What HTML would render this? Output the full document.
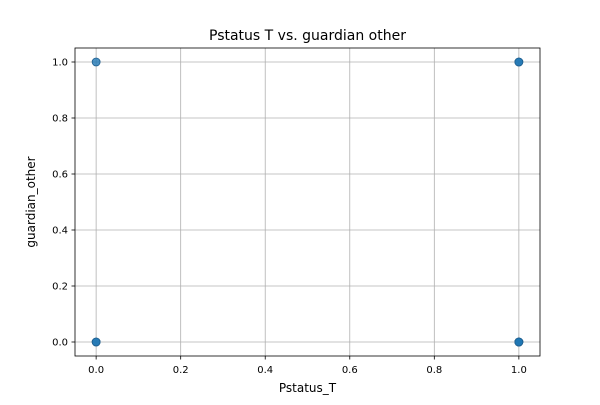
<!DOCTYPE html>
<html><head><meta charset="utf-8"><style>
body{margin:0;background:#fff;font-family:"Liberation Sans","DejaVu Sans",sans-serif;}
svg text{font-family:"DejaVu Sans","Liberation Sans",sans-serif;}
</style></head><body>
<svg id="chart" width="600" height="400" xmlns="http://www.w3.org/2000/svg">
<rect width="600" height="400" fill="#fff"/>
<g id="grid"></g><g id="ticks"></g><g id="pts"></g>
<rect x="75" y="48" width="465" height="308" fill="none" stroke="#000" stroke-width="0.8"/>
<text x="307.5" y="40" font-size="14" text-anchor="middle">Pstatus T vs. guardian other</text>
<text x="307.5" y="392" font-size="12" text-anchor="middle">Pstatus_T</text>
<text x="35" y="202" font-size="12" text-anchor="middle" transform="rotate(-90 35 202)">guardian_other</text>
</svg>
<script>
const xValues=[0,0,1,1,1,0,1,1,1];
const yValues=[0,1,0,1,1,0,0,0,0];
const xTicks=[0,0.2,0.4,0.6,0.8,1.0];
const yTicks=[0,0.2,0.4,0.6,0.8,1.0];
const ns="http://www.w3.org/2000/svg";
const L=75,R=540,T=48,B=356;
const sx=v=>L+(v+0.05)/1.1*(R-L);
const sy=v=>B-(v+0.05)/1.1*(B-T);
function mk(tag,attrs,parent){const e=document.createElementNS(ns,tag);for(const k in attrs)e.setAttribute(k,attrs[k]);document.getElementById(parent).appendChild(e);return e;}
xTicks.forEach(t=>{const x=sx(t);
const g=mk('line',{x1:x,x2:x,y1:T,y2:B,stroke:'#b0b0b0','stroke-width':0.8},'grid');


const tk=mk('line',{x1:x,x2:x,y1:B,y2:B+3.5,stroke:'#000','stroke-width':0.8},'ticks');


const tx=mk('text',{x:x,y:B+17,'font-size':10,'text-anchor':'middle'},'ticks');tx.textContent=t.toFixed(1);


});
yTicks.forEach(t=>{const y=sy(t);
const g=mk('line',{x1:L,x2:R,y1:y,y2:y,stroke:'#b0b0b0','stroke-width':0.8},'grid');


const tk=mk('line',{x1:L-3.5,x2:L,y1:y,y2:y,stroke:'#000','stroke-width':0.8},'ticks');


const tx=mk('text',{x:L-7,y:y+3.5,'font-size':10,'text-anchor':'end'},'ticks');tx.textContent=t.toFixed(1);


});
xValues.forEach((v,i)=>{
const c=mk('circle',{cx:sx(v),cy:sy(yValues[i]),r:4,fill:'#1f77b4','fill-opacity':0.8,stroke:'#1f5f8f','stroke-width':0.8},'pts');


});
</script>
</body></html>
